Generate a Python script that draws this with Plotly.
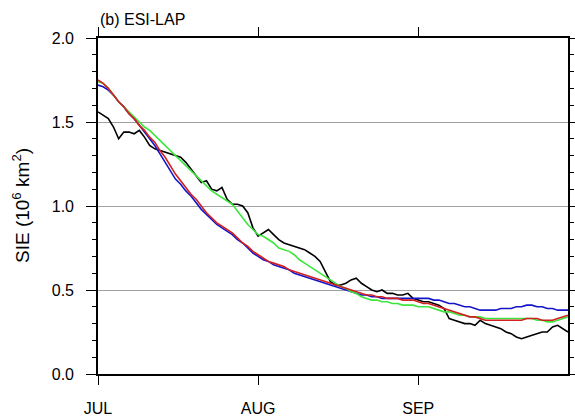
import plotly.graph_objects as go

# Day index from 1 July (0) to 30 September (91)
days = list(range(92))

month_ticks = [0, 31, 62]
month_labels = ["JUL", "AUG", "SEP"]

obs_black = [1.56, 1.54, 1.52, 1.47, 1.40, 1.44, 1.44, 1.43, 1.45, 1.41,
             1.36, 1.34, 1.33, 1.32, 1.31, 1.30, 1.29, 1.26, 1.22, 1.18,
             1.14, 1.15, 1.10, 1.09, 1.11, 1.04, 1.01, 1.01, 1.00, 0.96,
             0.87, 0.82, 0.84, 0.86, 0.83, 0.80, 0.78, 0.77, 0.76, 0.75,
             0.74, 0.72, 0.70, 0.67, 0.61, 0.55, 0.53, 0.53, 0.54, 0.56,
             0.57, 0.54, 0.52, 0.50, 0.49, 0.50, 0.48, 0.48, 0.47, 0.47,
             0.48, 0.45, 0.44, 0.43, 0.43, 0.42, 0.41, 0.39, 0.33, 0.32,
             0.31, 0.30, 0.30, 0.29, 0.32, 0.30, 0.29, 0.28, 0.27, 0.25,
             0.24, 0.22, 0.21, 0.22, 0.23, 0.24, 0.25, 0.25, 0.28, 0.29,
             0.27, 0.25]

sim_blue = [1.72, 1.71, 1.69, 1.66, 1.62, 1.59, 1.55, 1.52, 1.48, 1.44,
            1.40, 1.36, 1.31, 1.26, 1.21, 1.16, 1.13, 1.09, 1.06, 1.02,
            0.98, 0.95, 0.92, 0.89, 0.87, 0.85, 0.83, 0.80, 0.78, 0.75,
            0.72, 0.70, 0.68, 0.67, 0.65, 0.64, 0.63, 0.62, 0.60, 0.59,
            0.58, 0.57, 0.56, 0.55, 0.54, 0.53, 0.52, 0.51, 0.50, 0.49,
            0.48, 0.47, 0.47, 0.46, 0.46, 0.45, 0.45, 0.45, 0.45, 0.45,
            0.45, 0.45, 0.45, 0.45, 0.45, 0.44, 0.44, 0.43, 0.42, 0.42,
            0.41, 0.40, 0.40, 0.39, 0.38, 0.38, 0.38, 0.38, 0.39, 0.39,
            0.39, 0.40, 0.40, 0.41, 0.41, 0.40, 0.40, 0.39, 0.39, 0.38,
            0.38, 0.38]

sim_green = [1.74, 1.73, 1.70, 1.66, 1.62, 1.59, 1.56, 1.53, 1.50, 1.47,
             1.45, 1.42, 1.39, 1.36, 1.33, 1.30, 1.27, 1.24, 1.21, 1.18,
             1.15, 1.12, 1.09, 1.07, 1.05, 1.03, 1.01, 0.97, 0.93, 0.89,
             0.86, 0.83, 0.82, 0.80, 0.78, 0.75, 0.74, 0.73, 0.71, 0.68,
             0.66, 0.64, 0.62, 0.60, 0.58, 0.56, 0.54, 0.52, 0.51, 0.49,
             0.48, 0.46, 0.45, 0.44, 0.44, 0.43, 0.43, 0.42, 0.42, 0.41,
             0.41, 0.41, 0.40, 0.40, 0.40, 0.39, 0.38, 0.37, 0.37, 0.36,
             0.35, 0.35, 0.34, 0.34, 0.34, 0.33, 0.33, 0.33, 0.33, 0.33,
             0.33, 0.33, 0.33, 0.33, 0.33, 0.32, 0.32, 0.31, 0.31, 0.32,
             0.33, 0.34]

sim_red = [1.75, 1.73, 1.70, 1.66, 1.62, 1.59, 1.55, 1.52, 1.48, 1.45,
           1.41, 1.38, 1.33, 1.29, 1.24, 1.19, 1.15, 1.11, 1.07, 1.04,
           1.00, 0.96, 0.93, 0.90, 0.88, 0.86, 0.84, 0.81, 0.78, 0.76,
           0.73, 0.71, 0.69, 0.67, 0.66, 0.65, 0.64, 0.62, 0.61, 0.60,
           0.59, 0.58, 0.57, 0.56, 0.55, 0.54, 0.53, 0.52, 0.51, 0.50,
           0.49, 0.48, 0.47, 0.47, 0.46, 0.46, 0.45, 0.45, 0.45, 0.44,
           0.44, 0.44, 0.43, 0.42, 0.42, 0.41, 0.40, 0.39, 0.38, 0.37,
           0.36, 0.35, 0.34, 0.34, 0.33, 0.32, 0.32, 0.32, 0.32, 0.32,
           0.32, 0.32, 0.32, 0.33, 0.33, 0.33, 0.32, 0.32, 0.32, 0.33,
           0.34, 0.35]

series = [
    ("Obs", obs_black, "#000000"),
    ("Blue", sim_blue, "#1414c8"),
    ("Green", sim_green, "#3ce63c"),
    ("Red", sim_red, "#d02020"),
]

fig = go.Figure()
for name, vals, col in series:
    fig.add_trace(go.Scatter(x=days, y=vals, mode="lines", name=name,
                             line=dict(color=col, width=1.6),
                             showlegend=False, hoverinfo="skip"))

font_family = "Liberation Sans, Arial, Helvetica, sans-serif"

fig.update_layout(
    width=575, height=420,
    margin=dict(l=98, r=7, t=38, b=46, autoexpand=False),
    paper_bgcolor="white", plot_bgcolor="white",
    font=dict(family=font_family, size=16, color="black"),
    xaxis=dict(
        range=[0, 91], tickmode="array", tickvals=month_ticks, ticktext=month_labels,
        ticks="outside", ticklen=9, tickwidth=1.2, tickcolor="black",
        showline=True, linecolor="black", linewidth=1.6, mirror="ticks",
        showgrid=False, zeroline=False, ticklabelstandoff=10,
        tickfont=dict(size=16),
    ),
    yaxis=dict(
        range=[0, 2.0], tickmode="linear", tick0=0, dtick=0.5, tickformat=".1f",
        ticks="outside", ticklen=10, tickwidth=1.2, tickcolor="black",
        showline=True, linecolor="black", linewidth=1.6, mirror="ticks",
        showgrid=True, gridcolor="#a0a0a0", gridwidth=1, zeroline=False,
        ticklabelstandoff=9, tickfont=dict(size=16),
        minor=dict(dtick=0.1, ticks="outside", ticklen=4, tickcolor="black",
                   tickwidth=1, showgrid=False),
    ),
    annotations=[
        dict(text="SIE (10<sup>6</sup> km<sup>2</sup>)", xref="paper", yref="paper",
             x=-77 / 470, y=0.5, xanchor="center", yanchor="middle",
             textangle=-90, showarrow=False, font=dict(size=19)),
        dict(text="(b) ESI-LAP", xref="paper", yref="paper",
             x=0, y=1 + (38 - 19.5) / 336, xanchor="left", yanchor="middle",
             showarrow=False, font=dict(size=16)),
    ],
)

fig.write_html("out.html")
